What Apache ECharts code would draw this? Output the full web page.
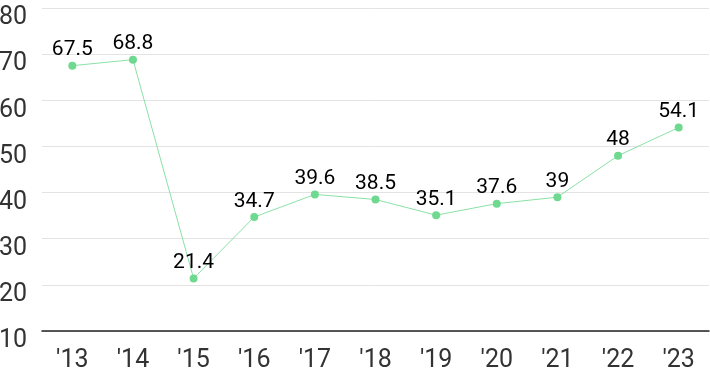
<!DOCTYPE html>
<html><head><meta charset="utf-8">
<script src="https://cdn.jsdelivr.net/npm/echarts@6/dist/echarts.min.js"></script>
<style>html,body{margin:0;padding:0;background:#fff}#c{width:710px;height:371px}</style>
</head><body><div id="c"></div>
<script>
const categories = ["'13","'14","'15","'16","'17","'18","'19","'20","'21","'22","'23"];
const values = [67.5, 68.8, 21.4, 34.7, 39.6, 38.5, 35.1, 37.6, 39, 48, 54.1];
const chart = echarts.init(document.getElementById('c'));
chart.setOption({
  animation: false,
  grid: {left: 42, right: 1, top: 8, bottom: 40, containLabel: false, outerBoundsMode: 'none'},
  xAxis: {
    type: 'category', data: categories, boundaryGap: true,
    axisLine: {lineStyle: {color: '#222', width: 1.5}},
    axisTick: {show: false},
    axisLabel: {color: '#333', fontSize: 25, fontFamily: 'Roboto', margin: 17}
  },
  yAxis: {
    type: 'value', min: 10, max: 80, interval: 10,
    axisLine: {show: false}, axisTick: {show: false},
    splitLine: {lineStyle: {color: '#e3e3e3'}},
    axisLabel: {
      color: '#333', fontSize: 25, fontFamily: 'Roboto', margin: 15, showMinLabel: true,
      verticalAlign: 'top', lineHeight: 30,
      formatter: '{a|{value}}',
      rich: {a: {color: '#333', fontSize: 25, fontFamily: 'Roboto', lineHeight: 30, padding: [-10, 0, 0, 0]}}
    }
  },
  series: [{
    type: 'line', data: values,
    symbol: 'circle', symbolSize: 8,
    lineStyle: {color: '#8be0a6', width: 1},
    itemStyle: {color: '#6fd98f'},
    label: {show: true, position: 'top', distance: 1, color: '#000', fontSize: 21, fontFamily: 'Roboto'}
  }]
});
</script></body></html>
